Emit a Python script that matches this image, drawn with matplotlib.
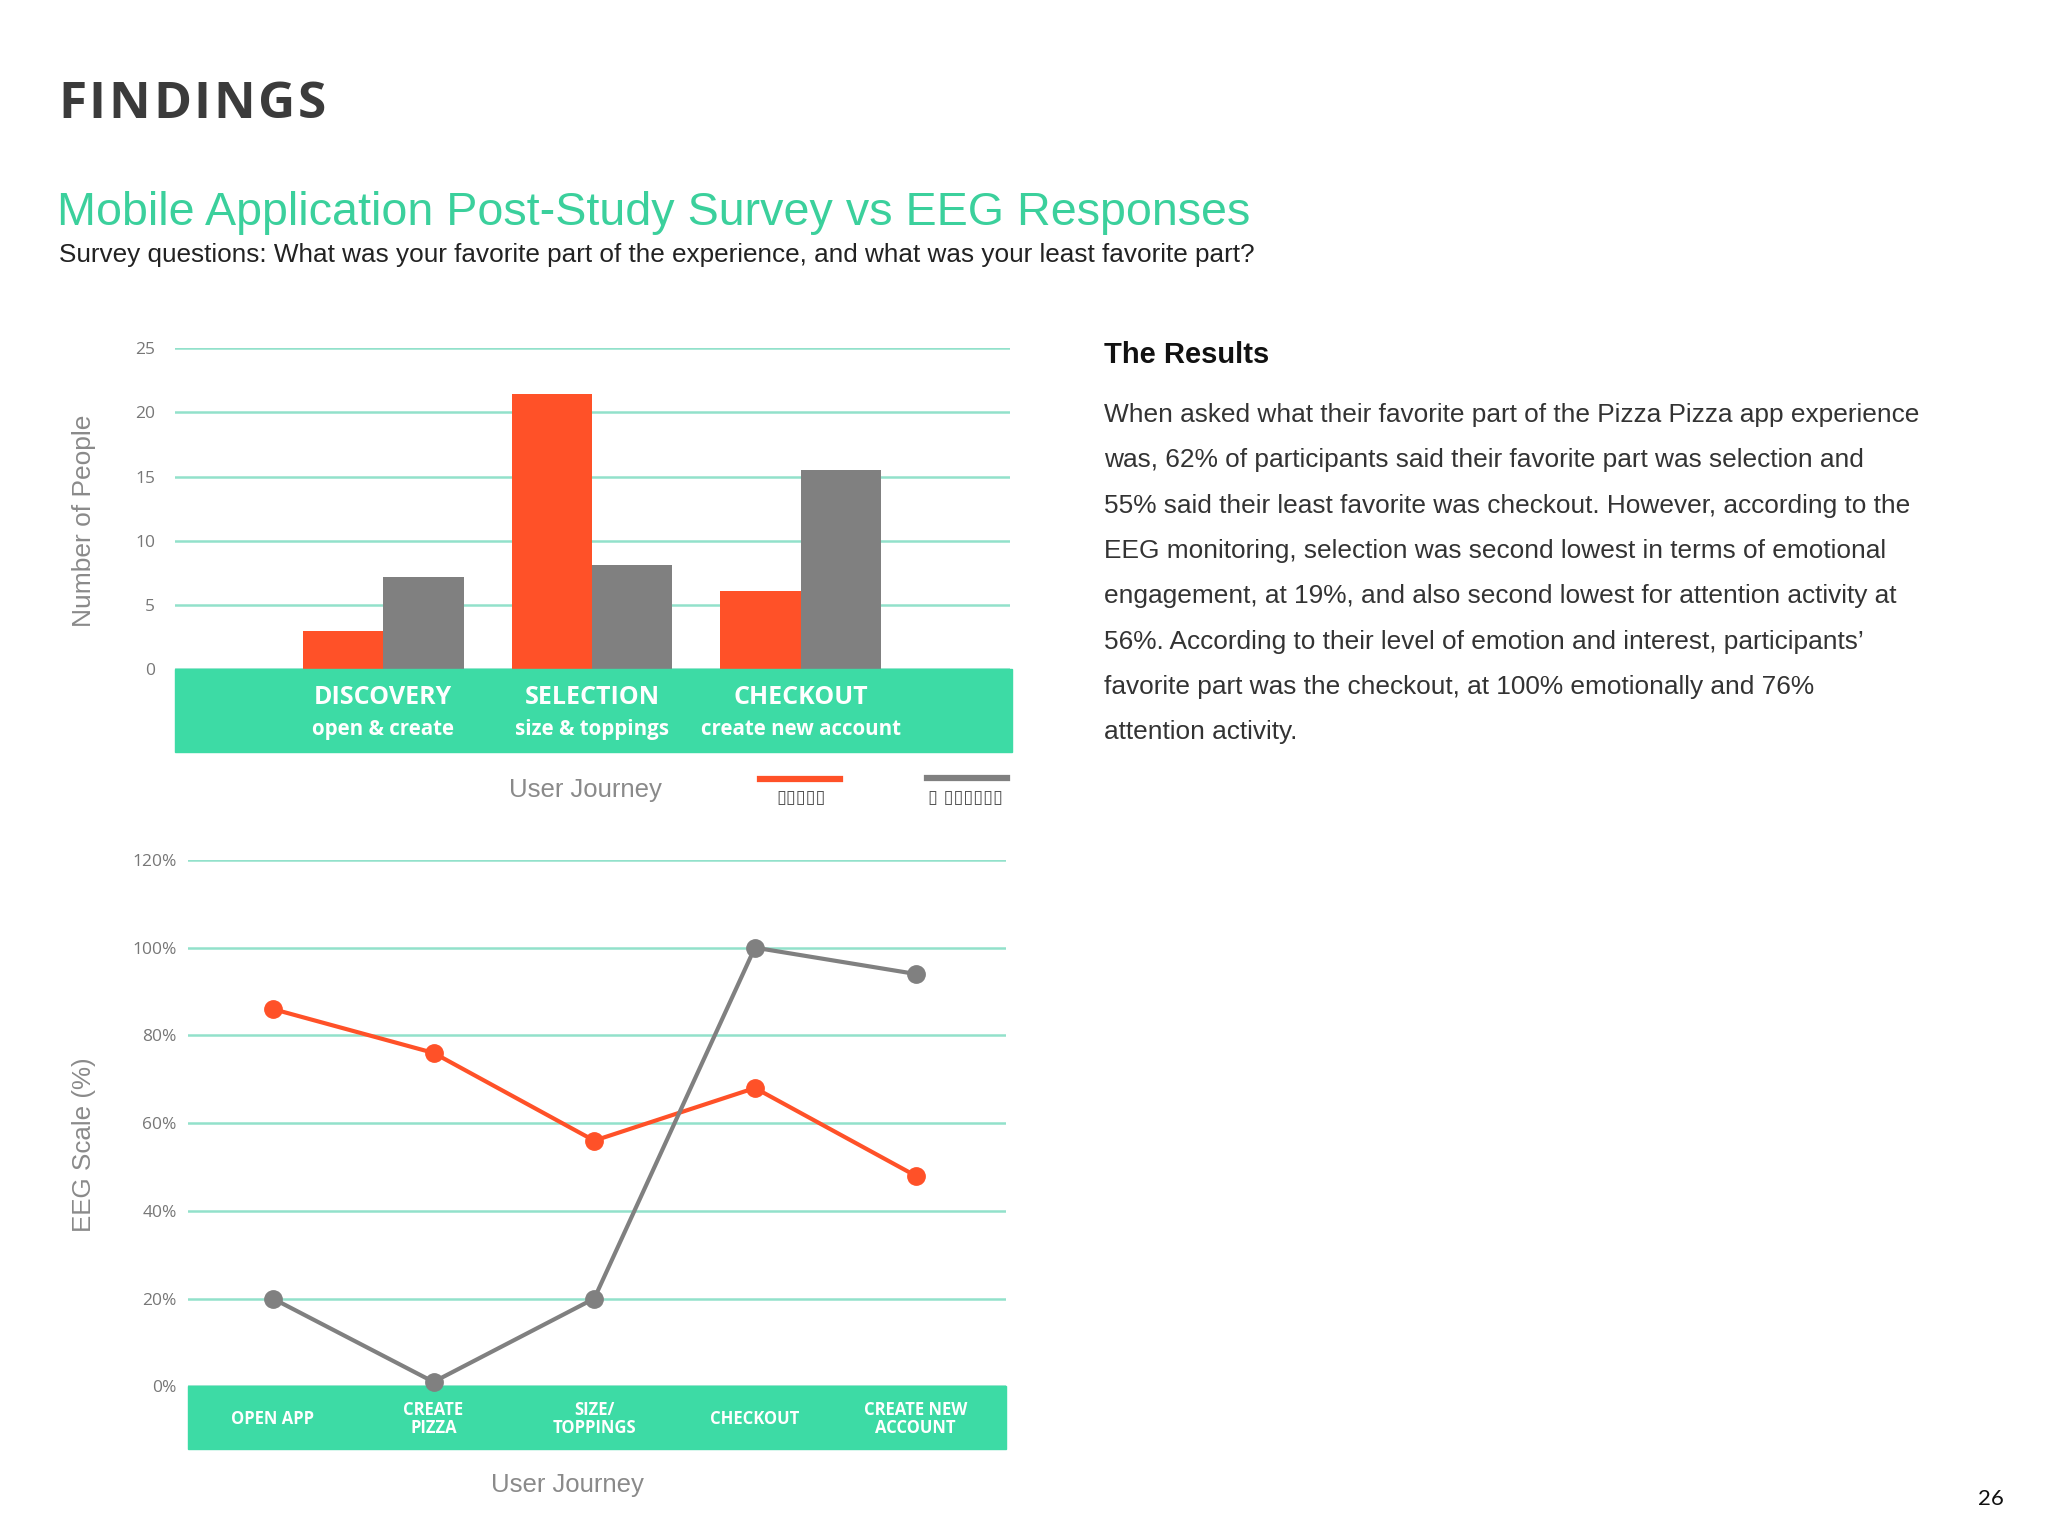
import matplotlib
matplotlib.use('Agg')
import numpy as np
import matplotlib.pyplot as plt
import matplotlib.transforms as mtransforms
from matplotlib.patches import Rectangle
from matplotlib.lines import Line2D

W, H = 2048, 1536

# bar chart data (survey)
stages = ['DISCOVERY', 'SELECTION', 'CHECKOUT']
stage_notes = ['open & create', 'size & toppings', 'create new account']
favorite = [3.0, 21.4, 6.1]
least_favorite = [7.2, 8.1, 15.5]
bar_ticks = [0, 5, 10, 15, 20, 25]

# line chart data (EEG)
steps = ['OPEN APP', 'CREATE\nPIZZA', 'SIZE/\nTOPPINGS', 'CHECKOUT', 'CREATE NEW\nACCOUNT']
attention = [86, 76, 56, 68, 48]
emotion = [20, 1, 20, 100, 94]
eeg_ticks = [0, 20, 40, 60, 80, 100, 120]

legend_labels = ['▯▯▯▯▯', '▯ ▯▯▯▯▯▯']

results_lines = [
    "When asked what their favorite part of the Pizza Pizza app experience",
    "was, 62% of participants said their favorite part was selection and",
    "55% said their least favorite was checkout. However, according to the",
    "EEG monitoring, selection was second lowest in terms of emotional",
    "engagement, at 19%, and also second lowest for attention activity at",
    "56%. According to their level of emotion and interest, participants’",
    "favorite part was the checkout, at 100% emotionally and 76%",
    "attention activity.",
]

RED = '#FF5128'
GRAY = '#808080'
GREEN = '#3DDBA5'
GRID = '#92E1CB'
TEAL_TITLE = '#3BD09C'
TICK = '#777777'
LABEL = '#8A8A8A'


def fx(x):
    return x / W


def fy(y):
    return 1 - y / H


fig = plt.figure(figsize=(20.48, 15.36), dpi=100)

# ---- header
renderer = fig.canvas.get_renderer()
word = 'FINDINGS'
letters = []
for ch in word:
    t = fig.text(0, fy(105), ch, fontsize=37, fontweight='bold', family='Open Sans',
                 color='#3B3B3B', va='center', ha='left')
    letters.append(t)
widths = [t.get_window_extent(renderer).width for t in letters]
gap = (268 - sum(widths)) / (len(word) - 1)
xpos = 58
for t, wd in zip(letters, widths):
    t.set_x(fx(xpos))
    xpos += wd + gap

fig.text(fx(57), fy(213), 'Mobile Application Post-Study Survey vs EEG Responses',
         fontsize=33.6, color=TEAL_TITLE, family='Liberation Sans', va='center', ha='left')
fig.text(fx(59), fy(255), 'Survey questions: What was your favorite part of the experience, '
         'and what was your least favorite part?',
         fontsize=18.8, color='#222222', family='Liberation Sans', va='center', ha='left')

# ---- bar chart
ax1 = fig.add_axes([fx(174.6), fy(669.5), (1009.6 - 174.6) / W, (669.5 - 347.9) / H])
x = np.arange(len(stages))
w = 0.385
ax1.bar(x - w / 2, favorite, w, color=RED, zorder=3)
ax1.bar(x + w / 2, least_favorite, w, color=GRAY, zorder=3)
ax1.set_xlim(-1, 3)
ax1.set_ylim(0, 25)
ax1.set_yticks(bar_ticks)
ax1.set_xticks([])
ax1.grid(axis='y', color=GRID, lw=1.8)
ax1.set_axisbelow(True)
for s in ax1.spines.values():
    s.set_visible(False)
ax1.tick_params(length=0, pad=14, labelsize=12.5, labelcolor=TICK)
for t in ax1.get_yticklabels():
    t.set_fontfamily('Open Sans')

ax1.add_patch(Rectangle((0, -0.2566), 1.003, 0.2566, transform=ax1.transAxes,
                        color=GREEN, clip_on=False, zorder=4))
tr1 = mtransforms.blended_transform_factory(ax1.transData, ax1.transAxes)
for i in range(len(stages)):
    ax1.text(i, -0.088, stages[i], transform=tr1, ha='center', va='center', color='white',
             fontsize=18, fontweight='bold', family='Open Sans', zorder=5)
    ax1.text(i, -0.186, stage_notes[i], transform=tr1, ha='center', va='center', color='white',
             fontsize=14.8, fontweight='bold', family='Open Sans', zorder=5)

fig.text(fx(84), fy(521), 'Number of People', rotation=90, fontsize=19, color=LABEL,
         family='Liberation Sans', ha='center', va='center')
fig.text(fx(585), fy(790), 'User Journey', fontsize=18.5, color=LABEL,
         family='Liberation Sans', ha='center', va='center')

# legend keys
for (x0, x1, yk, xl), lab, col in zip([(760, 840, 779, 801), (927, 1007, 777.5, 965)],
                                      legend_labels, [RED, GRAY]):
    fig.add_artist(Line2D([fx(x0), fx(x1)], [fy(yk), fy(yk)], color=col, lw=4.5,
                          transform=fig.transFigure))
    fig.text(fx(xl), fy(798), lab, fontsize=13, color='#555555', family='DejaVu Sans',
             ha='center', va='center')

# ---- line chart
ax2 = fig.add_axes([fx(187.7), fy(1386.3), (1005.6 - 187.7) / W, (1386.3 - 859.9) / H])
xs = np.arange(len(steps))
ax2.plot(xs, attention, color=RED, lw=3, marker='o', ms=12.5, zorder=5, clip_on=False)
ax2.plot(xs, emotion, color=GRAY, lw=3, marker='o', ms=12.5, zorder=5, clip_on=False)
ax2.set_xlim(-0.53, 4.56)
ax2.set_ylim(0, 120)
ax2.set_yticks(eeg_ticks)
ax2.set_yticklabels([f'{t}%' for t in eeg_ticks])
ax2.set_xticks([])
ax2.grid(axis='y', color=GRID, lw=1.8)
ax2.set_axisbelow(True)
for s in ax2.spines.values():
    s.set_visible(False)
ax2.tick_params(length=0, pad=8, labelsize=12.5, labelcolor=TICK)
for t in ax2.get_yticklabels():
    t.set_fontfamily('Open Sans')

ax2.add_patch(Rectangle((0, -0.1197), 1.0, 0.1197, transform=ax2.transAxes,
                        color=GREEN, clip_on=False, zorder=4))
tr2 = mtransforms.blended_transform_factory(ax2.transData, ax2.transAxes)
for i, lab in enumerate(steps):
    ax2.text(i, -0.062, lab, transform=tr2, ha='center', va='center', color='white',
             fontsize=12, fontweight='bold', family='Open Sans', linespacing=1.05, zorder=6)

fig.text(fx(84), fy(1145), 'EEG Scale (%)', rotation=90, fontsize=18.7, color=LABEL,
         family='Liberation Sans', ha='center', va='center')
fig.text(fx(567), fy(1485), 'User Journey', fontsize=18.5, color=LABEL,
         family='Liberation Sans', ha='center', va='center')

# ---- right text
fig.text(fx(1104), fy(355), 'The Results', fontsize=21, fontweight='bold', color='#111111',
         family='Liberation Sans', ha='left', va='center')
for i, line in enumerate(results_lines):
    fig.text(fx(1104), fy(415 + i * 45.3), line, fontsize=18.9, color='#333333',
             family='Liberation Sans', ha='left', va='center')

fig.text(fx(1991), fy(1499), '26', fontsize=16, color='#111111', family='Lato',
         ha='center', va='center')

fig.savefig('out.png', dpi=100)
